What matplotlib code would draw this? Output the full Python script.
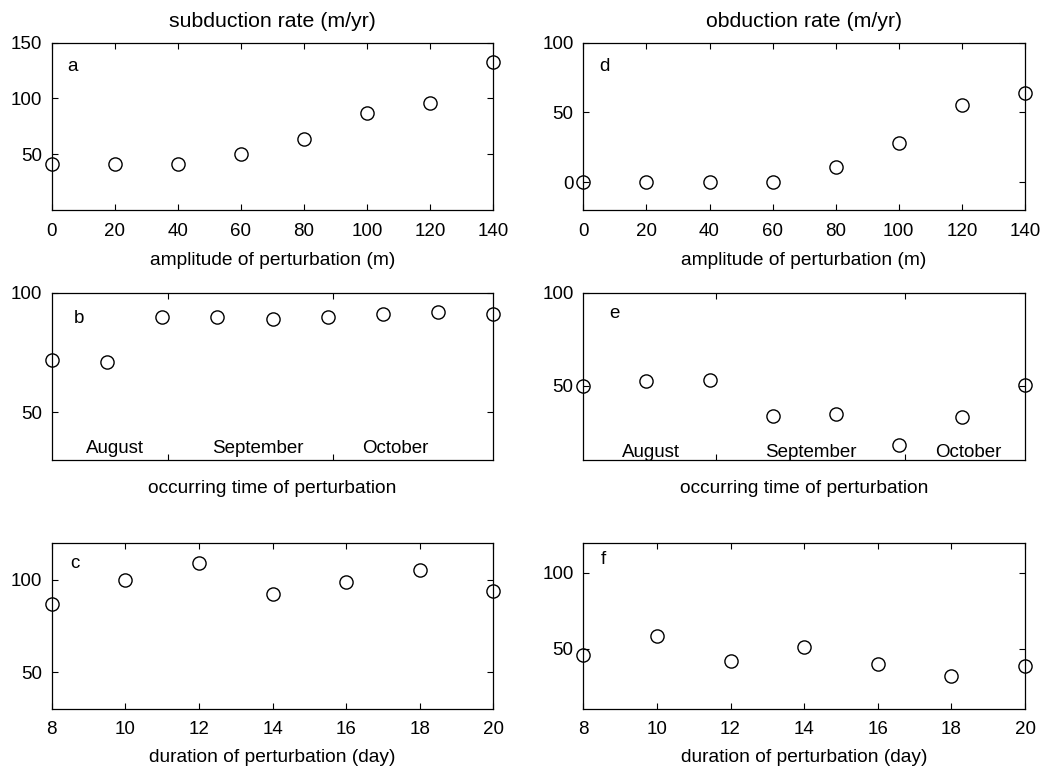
import matplotlib
matplotlib.use("Agg")
import matplotlib.pyplot as plt

plt.rcParams['font.family'] = ['Liberation Sans', 'DejaVu Sans']

# ---- data ----
amplitude = [0, 20, 40, 60, 80, 100, 120, 140]
subduction_amp = [41, 41, 41, 50, 64, 87, 96, 133]
obduction_amp = [0, 0, 0, 0, 11, 28, 55, 64]

occur_day_b = [0, 10, 20, 30, 40, 50, 60, 70, 80]   # days after Aug 10
subduction_time = [72, 71, 90, 90, 89, 90, 91, 92, 91]
occur_day_e = [0, 10, 20, 30, 40, 50, 60, 70]
obduction_time = [50, 52.5, 53, 33.5, 35, 18, 33, 50.5]

duration = [8, 10, 12, 14, 16, 18, 20]
subduction_dur = [87, 100, 109, 92, 99, 105, 94]
obduction_dur = [46, 58, 41.5, 51, 40, 32, 38.5]

month_names = ["August", "September", "October"]
month_bounds = [21, 51]

FS = 13.5
TFS = 15.3
W, H = 1048, 772
fig = plt.figure(figsize=(W / 100, H / 100), dpi=100)


def make_ax(x0, x1, y0, y1):
    return fig.add_axes([x0 / W, 1 - y1 / H, (x1 - x0) / W, (y1 - y0) / H])


cols = [(51.7, 493.3), (583.3, 1025.0)]
rows = [(42.7, 210.0), (292.7, 460.0), (542.7, 709.0)]


def style(ax):
    ax.tick_params(direction='in', top=True, right=True, length=4, width=0.8,
                   labelsize=FS, pad=7)
    ax.tick_params(axis='x', pad=9)
    for s in ax.spines.values():
        s.set_linewidth(0.9)


def scatter(ax, x, y):
    ax.plot(x, y, 'o', mfc='none', mec='black', ms=9.5, mew=1.0, clip_on=False)


def xlab(ax, text, frac):
    ax.set_xlabel(text, fontsize=FS + 0.3)
    ax.xaxis.set_label_coords(0.5, frac)
    ax.xaxis.label.set_va('center')


def letter(ax, t, fx, fy):
    ax.text(fx, fy, t, transform=ax.transAxes, fontsize=FS, ha='left', va='center')


# panel a
ax = make_ax(*cols[0], *rows[0])
scatter(ax, amplitude, subduction_amp)
ax.set_xlim(0, 140)
ax.set_ylim(0, 150)
ax.set_xticks(amplitude)
ax.set_yticks([50, 100, 150])
style(ax)
xlab(ax, "amplitude of perturbation (m)", -0.30)
ax.text(0.5, 1.125, "subduction rate (m/yr)", transform=ax.transAxes,
        ha='center', va='center', fontsize=TFS)
letter(ax, 'a', 0.035, 0.855)

# panel d
ax = make_ax(*cols[1], *rows[0])
scatter(ax, amplitude, obduction_amp)
ax.set_xlim(0, 140)
ax.set_ylim(-20, 100)
ax.set_xticks(amplitude)
ax.set_yticks([0, 50, 100])
style(ax)
xlab(ax, "amplitude of perturbation (m)", -0.30)
ax.text(0.5, 1.125, "obduction rate (m/yr)", transform=ax.transAxes,
        ha='center', va='center', fontsize=TFS)
letter(ax, 'd', 0.037, 0.86)

# panel b
ax = make_ax(*cols[0], *rows[1])
scatter(ax, occur_day_b, subduction_time)
ax.set_xlim(0, 80)
ax.set_ylim(30, 100)
ax.set_xticks(month_bounds)
ax.set_xticklabels([])
ax.set_yticks([50, 100])
style(ax)
xlab(ax, "occurring time of perturbation", -0.168)
letter(ax, 'b', 0.05, 0.845)
for name, xd in zip(month_names, [11.5, 37.4, 62.2]):
    ax.text(xd, 0.015, name, transform=ax.get_xaxis_transform(),
            ha='center', va='bottom', fontsize=FS)

# panel e
ax = make_ax(*cols[1], *rows[1])
scatter(ax, occur_day_e, obduction_time)
ax.set_xlim(0, 70)
ax.set_ylim(10, 100)
ax.set_xticks(month_bounds)
ax.set_xticklabels([])
ax.set_yticks([50, 100])
style(ax)
xlab(ax, "occurring time of perturbation", -0.168)
letter(ax, 'e', 0.058, 0.877)
for name, xd in zip(month_names, [10.7, 36.0, 61.0]):
    ax.text(xd, -0.005, name, transform=ax.get_xaxis_transform(),
            ha='center', va='bottom', fontsize=FS)

# panel c
ax = make_ax(*cols[0], *rows[2])
scatter(ax, duration, subduction_dur)
ax.set_xlim(8, 20)
ax.set_ylim(30, 120)
ax.set_xticks(duration)
ax.set_yticks([50, 100])
style(ax)
xlab(ax, "duration of perturbation (day)", -0.29)
letter(ax, 'c', 0.043, 0.876)

# panel f
ax = make_ax(*cols[1], *rows[2])
scatter(ax, duration, obduction_dur)
ax.set_xlim(8, 20)
ax.set_ylim(10, 120)
ax.set_xticks(duration)
ax.set_yticks([50, 100])
style(ax)
xlab(ax, "duration of perturbation (day)", -0.29)
letter(ax, 'f', 0.04, 0.896)

fig.savefig("out.png", dpi=100)
